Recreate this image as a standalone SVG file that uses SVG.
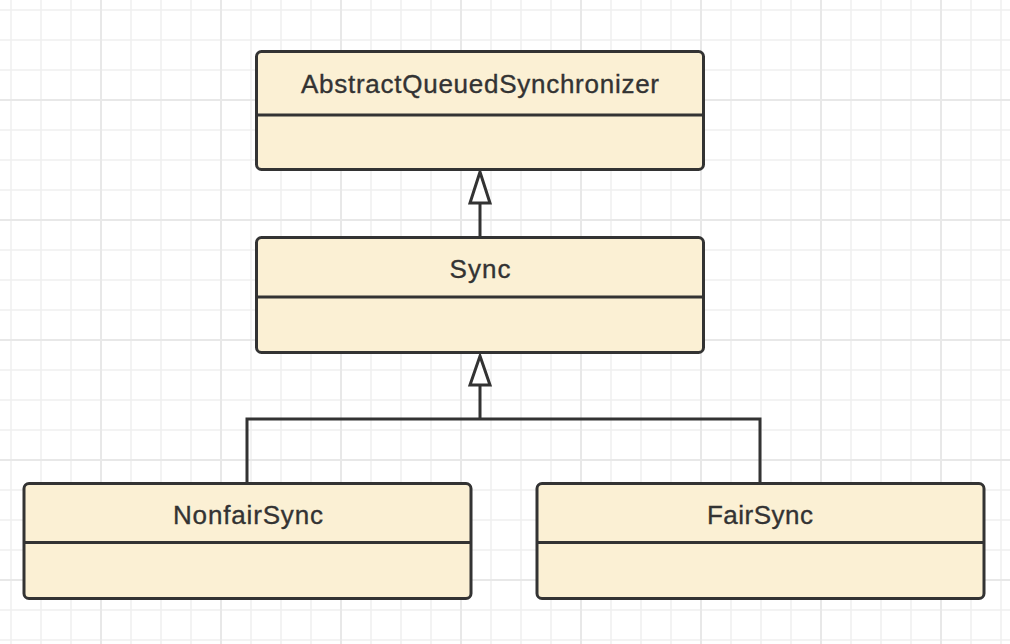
<svg xmlns="http://www.w3.org/2000/svg" width="1010" height="644" viewBox="0 0 1010 644">
<style>
.box{fill:#FBF0D4;stroke:#333333;stroke-width:3}
.div{stroke:#333333;stroke-width:3;fill:none}
.lbl{font-family:"Liberation Sans",Arial,sans-serif;font-size:26px;fill:#333333;stroke:#333333;stroke-width:0.35;text-anchor:middle}
.conn{stroke:#333333;stroke-width:3;fill:none;stroke-linejoin:miter}
.tri{fill:#ffffff;stroke:#333333;stroke-width:3;stroke-linejoin:miter}
</style>
<defs>
<pattern id="minor" patternUnits="userSpaceOnUse" x="-4" y="-5" width="30" height="30">
<path d="M15 0V30M0 15H30" stroke="#f0f0f0" stroke-width="1.5"/>
</pattern>
<pattern id="major" patternUnits="userSpaceOnUse" x="41" y="40" width="120" height="120">
<path d="M60 0V120M0 60H120" stroke="#e8e8e8" stroke-width="2"/>
</pattern>
</defs>
<rect width="1010" height="644" fill="#ffffff"/>
<rect width="1010" height="644" fill="url(#minor)"/>
<rect width="1010" height="644" fill="url(#major)"/>

<g id="connectors">
<path class="conn" d="M480 237V203"/>
<polygon class="tri" points="480,172 490,203 470,203"/>
<path class="conn" d="M247 483V419H760V483M480 419V385"/>
<polygon class="tri" points="480,356 490,385 470,385"/>
</g>

<g id="aqs">
<rect class="box" x="256.5" y="51.5" width="447" height="118" rx="5"/>
<path class="div" d="M256.5 115H703.5"/>
<text class="lbl" x="480" y="92.5" textLength="358" lengthAdjust="spacing">AbstractQueuedSynchronizer</text>
</g>

<g id="sync">
<rect class="box" x="256.5" y="237.5" width="447" height="115" rx="5"/>
<path class="div" d="M256.5 297H703.5"/>
<text class="lbl" x="480" y="277.5" textLength="61" lengthAdjust="spacing">Sync</text>
</g>

<g id="nonfair">
<rect class="box" x="24" y="483.5" width="447" height="115" rx="5"/>
<path class="div" d="M24 542.5H471"/>
<text class="lbl" x="248" y="523.5" textLength="150" lengthAdjust="spacing">NonfairSync</text>
</g>

<g id="fair">
<rect class="box" x="537" y="483.5" width="447" height="115" rx="5"/>
<path class="div" d="M537 542.5H984"/>
<text class="lbl" x="760" y="523.5" textLength="106" lengthAdjust="spacing">FairSync</text>
</g>
</svg>
